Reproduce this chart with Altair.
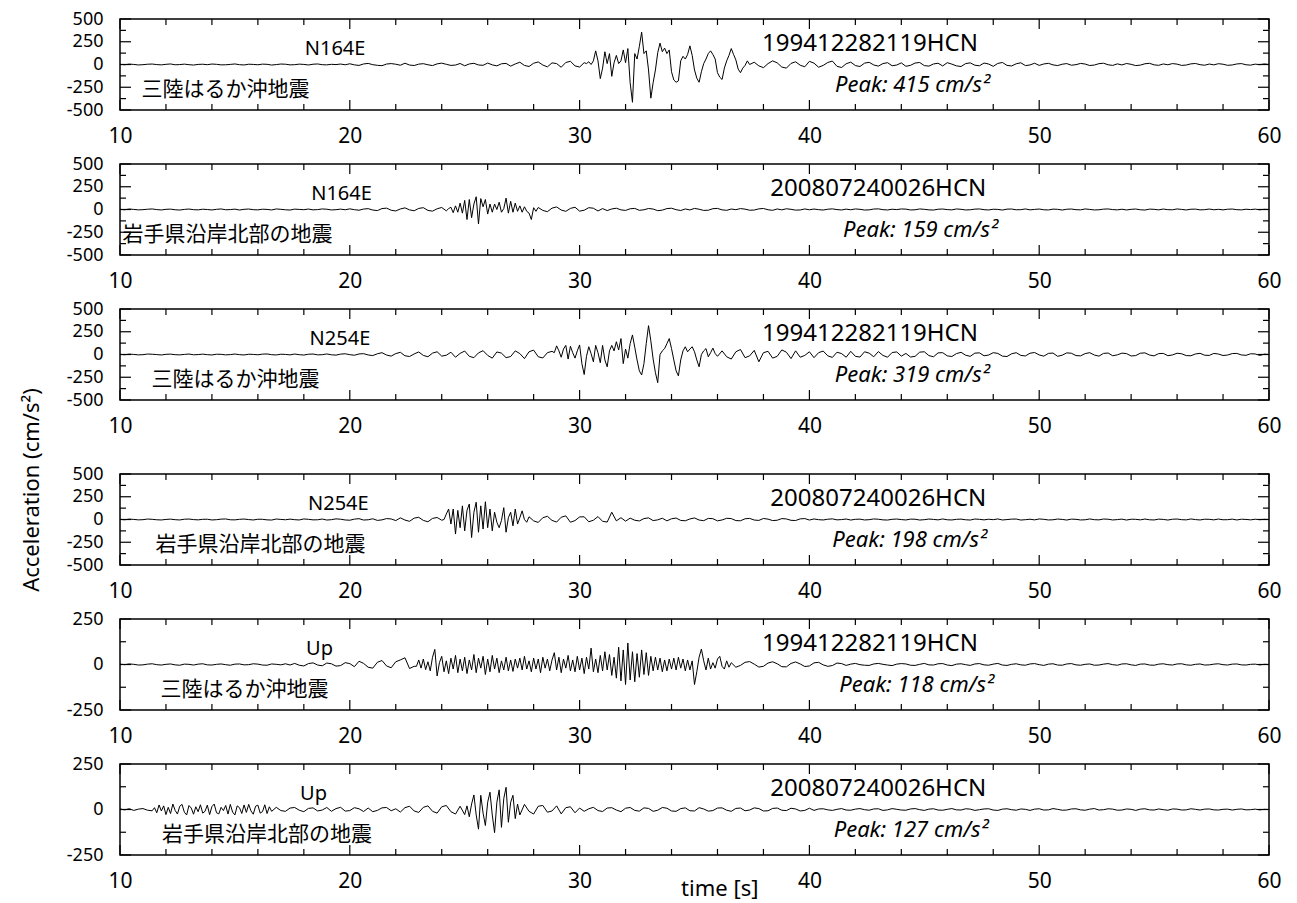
import altair as alt
import pandas as pd

# ---------------- data (acceleration, cm/s^2) ----------------
# every trace is stored in segments: (start time [s], sample step [s], values)

# panel 1 : N164E, 199412282119HCN
P1_PRE = [2, -3, 4, 1, -5, -2, 3, 5, -1, -4, 2, 6, -3, -1, 4, -2, -6, 1, 3, -2,
          5, 2, -4, -3, 1, 6, -2, -5, 3, 1, -3, 4, 2, -6, -1, 5, 3, -4, -2, 4,
          1, -5, 3, 6, -2, -4, 2, -1, 5, -3,
          8, -4, -10, 6, 12, -2, -9, -13, 5, 10, 3, -8, 14, -6, -11, 4, 9, -3, -12, 7,
          15, 2, -10, -6, 11, -14, 6, 13, -5, -9, 16, -4, -15, 8, 12,
          -18, 6, 25, -10, -22, 14, 28, -6, -26, 18, 10, -30, 22, 35, -15, -28, 20]
P1_BURST = [10, 30, 0, 40, 150, 40, -155, -40, 140, 10,
            120, -130, 20, 100, 10, 40, 160, 20, 175, -200,
            -415, 120, 60, 200, 355, 120, 150, -60, -370, -200,
            -60, 130, 235, 140, 180, 120, 160, -80, -170, -195,
            -180, 40, 90, 60, 110, 205, 100, -60, -150, -195,
            -80, 10, 60, 120, 150, 110, 60, -90, -140, -165,
            -40, 40, 100, 175, 110, 50, -50, -90, -40, -10,
            40, 0]
P1_POST = [25, -15, -35, 10, 40, 18, -28, -40, 12, 30, -8, -25, 35, 15, -30, -10, 22, 38, -20, -33, 8, 26,
           -12, -22, 15, 24, -5, -18, 10, 20, -14, -6, 18, -20, -9, 16, 22, -12, -18, 6, 14, -16,
           20, 4, -15, -22, 10, 18, -8, -14, 16, 5, -20, 12, 22, -10, -16, 8, 19, -12, -5, 14,
           -10, 6, 13, -4, -12, 3, 10, -8, -2, 12, 5, -11, -6, 9, 14, -3, -10, 7, -5, 11,
           2, -12, -7, 8, 13, -4, -9, 6, -3, 10, 4, -10, -6, 7, 11, -2, -8, 5, -4, 9,
           3, -9, -5, 6, 10, -3, -7, 4, -2, 6, 0]

# panel 2 : N164E, 200807240026HCN
P2_PRE = [2, -3, 5, 1, -4, -2, 3, 6, -1, -5, 2, 4, -3, -6, 1, 5, -2, -4, 3, 0,
          -5, 2, 6, -3, -1, 4, -6, 2, 5, -2, -4, 3, 1, -5, 6, 2, -3, -6, 4, 1,
          -2, 5, -4, -1, 6, 3, -5, -2, 4, -3, 7, -2, -8, 5, 9,
          -6, -12, 10, 15, -8, -16, 6, 18, -4, -14, 12, 20, -10, -18, 8, 22, -15]
P2_BURST = [10, 25, -35, 40, -30, 70, -40, 100, -110, 110,
            -90, 60, 140, -159, 120, 30, 110, -50, 60, -30,
            60, 0, 80, -30, 10, 125, -40, 90, -30, 70,
            -20, 40, -30, 30, -20, -40, -110, 20, -20]
P2_POST = [22, -10, -24, 15, 28, -6, -20, 12, 25, -18, -8, 20, 14, -16, 10,
           -12, 6, 14, -4, -10, 8, 12, -9, -3, 11, 5, -13, -7, 10, 14, -2, -11, 6, -5, 12,
           3, -10, -8, 9, 12, -4, -9, 5, -2, 10, 4, -8, -6, 7, 11, -3, -9, 6, -4, 8,
           2, -7, -5, 6, -3,
           5, -2, -6, 3, 7, -1, -5, 4, -3, 6, 2, -6, -4, 5, 7, -2, -5, 3, -1, 6,
           4, -5, -3, 6, 2, -4, -6, 3, 5, -1, -4, 6, 2, -5, -3, 4, 6, -2, -5, 3,
           1, -6, 4, 5, -3, -2, 6, -4, 1, 5, -3, -5, 4, 2, -6, 3, 5, -2, -4, 6,
           1, -5, -3, 4, 6, -1, -4, 3, -5, 2, 5, -3, -6, 4, 2, -4, 5, -2, -3, 6,
           1, -5, 3, 4, -4, -2, 5, -3, 2, -4, 3, 5, -2, -4, 3, -1, 4, -3, 2, 0]

# panel 3 : N254E, 199412282119HCN
P3_PRE = [2, -3, 4, 1, -4, -2, 5, 3, -1, -5, 2, 4, -2, -4, 1, 5, -3, -1, 4, -2,
          -5, 3, 2, -4, -1, 5, -2, -5, 3, 1, -3, 4, 6, -2, -5, 3, 1, -4, 5, -2,
          -6, 3, 5, -4, -2, 6, -3, -7, 4, 8, -2, -8, 6, 9, -5,
          -12, 8, 20, -6, -18, 10, 24, -14, -22, 6, 28, -10, -25, 15, 30, -18, -8,
          25, -30, 12, 38, -20, -35, 18, 42, -10, -40, 28, 15, -35, -22, 40, 10, -45, 30, 48, -25, -38, 20, 35]
P3_BURST = [20, 95, 40, -30, 60, 100, -50, 90, 20, -40,
            40, 105, -100, -220, -20, 85, 10, -80, 100, 20,
            -90, 100, -60, -135, 40, 100, 40, 140, 50, 175,
            -100, 60, -40, 120, 215, 80, -60, -180, -225, -100,
            120, 317, 150, -50, -200, -310, 0, 40, 65, 120,
            175, 65, -60, -180, -235, -60, 40, 85, 30, 60,
            85, 30, -60, -135, 0, 40, 65, -25, 20, 70,
            10, -20]
P3_POST = [40, -25, -50, 30, 55, -35, -15, 45, -80, 20, 35, -40, -20, 50, 25, -45, 40, -30, -10, 30,
           -35, 20, 38, -15, -32, 25, 10, -30, 35, -20, -28, 30, 15, -25, 32, -10, -30, 22, 28, -18,
           12, -28, -20, 26, 30, -12, -25, 18, 20, -15,
           -22, 10, 24, -8, -20, 15, 18, -14, -6, 20, 12, -18, -22, 8, 20, -10, -16, 14, 22, -5,
           -18, 12, 16, -20, -8, 18, 14, -12, -15, 10, 20, -6, -18, 12, 16, -14, -4, 15, 10, -16,
           -12, 14, 18, -6, -15, 10, 12, -13, -5, 14, 8, -12, -14, 6, 13, -8, -10, 12, 5, -11,
           -6, 10, 12, -5, -9, 8, 6, -10, 4, 0]

# panel 4 : N254E, 200807240026HCN
P4_PRE = [2, -3, 4, 1, -4, -2, 5, 2, -3, -5, 1, 4, -2, -5, 3, 5, -1, -4, 2, 3,
          -5, -2, 4, 6, -3, -4, 2, 5, -1, -5, 3, 2, -4, -6, 5, 1, -3, 4, -2, -5,
          6, 2, -4, -3, 5, -6, -2, 7, 3, -5, -8, 4, 9, -6, -3, 8, -10, -4, 10, 6,
          -12, 18, -6, -20, 15, 24, -10, -25, 12, 22, -8]
P4_BURST = [0, 60, 115, -50, 115, -160, 100, -90, 150, -125,
            100, 170, -198, 80, 190, -140, 150, -105, 195, -90,
            115, -125, 80, -30, -90, -10, 130, -140, 20, 80,
            -70, 115, -50, 20, 95, 0, -30]
P4_POST = [30, -15, -32, 20, 35, -10, -28, 25, 40, -30, -12, 28, 30, -25, -8, 32, -20, -28, 80, -15, 20, -18,
           15, -8, -16, 10, 18, -12, -4, 14, -15, 8, 16, -10, -14, 6, 17, -6, -13, 12, 9, -15,
           -5, 13, 10, -12, -14, 8, 12, -6, -10, 11, 4, -12, -8, 10, 6, -9, -11, 7, 10, -6,
           6, -2, -5, 3, 7, -4, -1, 5, -6, 2, 4, -5, -2, 6, 3, -4, -6, 2, 5, -1,
           -5, 4, 3, -6, -2, 5, 1, -4, 6, -3, -5, 2, 4, -3, -6, 5, 2, -4, 3, -2,
           6, -5, -1, 4, 5, -6, -2, 3, -4, 6, 2, -5, -3, 5, 1, -6, 4, 2, -5, -3,
           6, -2, -4, 5, 3, -5, -1, 4, -6, 3, 2, -4, 5, -3, -5, 4, 1, -6, 3, 5,
           -2, -4, 6, -1, -5, 3, 2, -4, 5, -3, -2, 4, -5, 3, 1, -4, 3, -2, 2, 0]

# panel 5 : Up, 199412282119HCN
P5_PRE = [2, -1, 3, 1, -3, -2, 2, 4, -1, -3, 1, 3, -2, -4, 2, 1, -3, 2, 4, -2,
          -3, 1, 3, -1, -4, 2, 3, -2, -1, 4, 2, -3, -4, 3, 1, -2, 4, -3,
          6, -4, -8, 5, 9, -3, -7, 8, 4, -9, -6, 10, 5,
          -12, 18, 6, -15, -20, 12, 22, -8, -18, 15, 25, 37, -22, -10]
P5_ACTIVE = [-10,
             25, -20, 30, -28, 15, -35, 40, 83, -63, 10,
             45, -40, 20, -50, 35, -25, 50, -45, 30, -35,
             40, -50, 25, -30, 55, -45, 35, -20, 45, -55,
             30, -40, 50, -25, 35, -45, 20, -30, 40, -35,
             25, -38, 30, -20, 35, -30, 45, -25, 20, -40,
             35, -25, 30, -45, 40, -20, 30, -35, 25, 65,
             -30, 40, -45, 30, -20, 50, -35, 25, -40, 45,
             -30, 35, -50, 40, -25, 90, -40, 30, -45, 50,
             -35, 70, -30, 55, -60, 40, -75, 95, -90, 80,
             -110, 118, -85, 70, -95, 60, -70, 80, -55, 65,
             -60, 45, -35, 40, -30, 35, -40, 25, -35, 30,
             -25, 35, -30, 40, -20, 30, -35, 25, -30, 20,
             -110, -40, 40, 85, 20, -30, 35, -25, 10, -20,
             30, 45, -10, -25, 20, -15, 10]
P5_POST = [-15, -5, 12, 16, 2, -14, -10, 8, 15, 4, -12, -13, 6, 14, 3, -11, -8, 9, 12, -2, -10, -6, 8, 5,
           -5, 2, 6, -1, -4, -5, 3, 6, 1, -3, -6, 2, 5, 3, -4, -5, 1, 6, -2, -3,
           4, 5, -3, -6, 2, 4, -1, -5, 3, 5, -2, -4, 2, 6, -3, -5, 1, 4, -2, -4,
           3, 5, -1, -5, 2, 4, -3, -4, 3, 5, -2, -4, 1, 3, -4, -3, 2, 5, -1, -4,
           3, 4, -2, -5, 2, 3, -3, -4, 2, 4, -1, -3, 3, 4, -2, -4, 1, 3, -3, -2,
           2, 4, -1, -3, 2, 3, -2, -3, 1, 2, -2, 1, 0]

# panel 6 : Up, 200807240026HCN
P6_PRE = [3, -2, 4, -5, 2, 5, -4, -7]
P6_NOISE = [10, -18, 25, -8, 20, -28, 12, -22, 30, -5, -25, 18, 28, -15, -30, 22, 8, -26, 15, -12,
            26, -20, -10, 24, -28, 16, 30, -18, -24, 12, -6, 22, -25, 28, -14, -30, 20, 10, -22, 25,
            -16, 28, -8, -26, 18, 24, -20, -12, 26, -22, 15, -10]
P6_MID = [12, -6, -10, 8, 11, -4, -12, 6, 9, -8, -3, 11, -10, 5, 12, -9, -6, 10, 4, -11,
          8, -12, -5, 9, 11, -7, 4,
          -14, 10, 18, -8, -16, 12, 20, -10, -20, 15, 22, -12, -25, 18, -28]
P6_BURST = [20, -40, 30, 80, -30, -108, 78, -20, -88, 40,
            95, -30, -127, 40, 108, -98, 60, 122, -70, 40,
            78, -50, 30, -30]
P6_POST = [28, -10, -25, 18, 22, -15, -8, 20, -24, 10, 15, -18, 8,
           -10, 4, 12, -6, -11, 8, 10, -3, -12, 7, 11, -5, -9, 9, 6, -10, -4, 11, 7, -8,
           -10, 5, 9, -7, -8, 10, 3, -9, -6, 8, 9, -4, -10, 6, 8, -7, -3, 9, 5, -8,
           -7, 6, 8, -4, -6, 7, 3, -8, -5, 7,
           -5, 3, 4, -2, -5, 1, 5, -3, -4, 2, 5, -1, -4, 3, 4, -5, -2, 5, 1, -3,
           -4, 3, 5, -1, -5, 2, 4, -3, -4, 1, 5, -2, -3, 4, 2, -5, -1, 3, 4, -3,
           -5, 2, 4, -1, -4, 3, 1, -5, 2, 4, -3, -2, 5, 1, -4, -3, 3, 4, -2, -4,
           2, 5, -3, -1, 4, 2, -4, -3, 3, 1, -5, 2, 4, -2, -3, 3, -1, -4, 3, 2,
           -3, -2, 4, 1, -3, 2, 3, -2, -3, 1, 2, -3, 1, 3, -2, -1, 2, -2, 1, 0]

SEGMENTS = [
    [(10.0, 0.2, P1_PRE), (30.3, 0.1, P1_BURST), (37.6, 0.2, P1_POST)],
    [(10.0, 0.2, P2_PRE), (24.3, 0.1, P2_BURST), (28.2, 0.2, P2_POST)],
    [(10.0, 0.2, P3_PRE), (28.9, 0.1, P3_BURST), (36.2, 0.2, P3_POST)],
    [(10.0, 0.2, P4_PRE), (24.1, 0.1, P4_BURST), (27.8, 0.2, P4_POST)],
    [(10.0, 0.2, P5_PRE), (22.9, 0.1, P5_ACTIVE), (36.8, 0.2, P5_POST)],
    [(10.0, 0.2, P6_PRE), (11.5, 0.1, P6_NOISE), (16.8, 0.2, P6_MID), (25.1, 0.1, P6_BURST),
     (27.6, 0.2, P6_POST)],
]

COMPONENT = ["N164E", "N164E", "N254E", "N254E", "Up", "Up"]
EVENT = ["199412282119HCN", "200807240026HCN", "199412282119HCN",
         "200807240026HCN", "199412282119HCN", "200807240026HCN"]
QUAKE = ["三陸はるか沖地震", "岩手県沿岸北部の地震", "三陸はるか沖地震",
         "岩手県沿岸北部の地震", "三陸はるか沖地震", "岩手県沿岸北部の地震"]
PEAK = [415, 159, 319, 198, 118, 127]
YMAX = [500, 500, 500, 500, 250, 250]

# label anchor times (s)
COMP_T = [19.36, 19.64, 19.57, 19.5, 18.68, 18.42]
EVENT_T = [42.64, 43.0, 42.64, 43.0, 42.64, 43.0]
QUAKE_T = [14.59, 14.68, 15.03, 16.11, 15.42, 16.40]
PEAK_T = [44.48, 44.83, 44.47, 44.36, 44.66, 44.42]
# label heights as a fraction of the panel's y half-range
COMP_F, EVENT_F, QUAKE_F, PEAK_F = 0.21, 0.30, -0.70, -0.60

X_LABELS = [10, 20, 30, 40, 50, 60]
X_MINOR = [12, 14, 16, 18, 22, 24, 26, 28, 32, 34, 36, 38, 42, 44, 46, 48, 52, 54, 56, 58]

# ---------------- styling ----------------
W, H = 1149, 91
FONT = "Noto Sans"
JFONT = "Noto Sans CJK JP"
LABEL_EXPR = "datum.value < 0 ? '-' + abs(datum.value) : '' + datum.value"


def trace(segments):
    t, a = [], []
    for start, step, vals in segments:
        for i, v in enumerate(vals):
            t.append(round(start + i * step, 3))
            a.append(v)
    return pd.DataFrame({"t": t, "a": a})


def panel(i, last=False):
    ymax = YMAX[i]
    xs = alt.Scale(domain=[10, 60], nice=False, zero=False)
    ys = alt.Scale(domain=[-ymax, ymax], nice=False, zero=False)
    if ymax == 500:
        y_labels = [500, 250, 0, -250, -500]
        y_major = [500, 250, 0, -250, -500]
        y_minor = [375, 125, -125, -375]
    else:
        y_labels = [250, 0, -250]
        y_major = [250, 0, -250]
        y_minor = [125, -125]
    xaxis = alt.Axis(values=X_LABELS, title=None, ticks=False, tickSize=0, domain=False, grid=False,
                     labelFont=FONT, labelFontSize=21, labelColor="black", labelPadding=15,
                     labelFlush=False, labelExpr=LABEL_EXPR)
    yaxis = alt.Axis(values=y_labels, title=None, ticks=False, tickSize=0, domain=False, grid=False,
                     labelFont=FONT, labelFontSize=18, labelColor="black", labelPadding=17,
                     labelExpr=LABEL_EXPR)

    def X(f):
        return alt.X(f, type="quantitative", scale=xs, axis=xaxis)

    def Y(f):
        return alt.Y(f, type="quantitative", scale=ys, axis=yaxis)

    line = alt.Chart(trace(SEGMENTS[i])).mark_line(color="black", strokeWidth=1, clip=True).encode(
        x=X("t"), y=Y("a"))

    layers = [line]
    for vals, ln in ((X_LABELS, 10), (X_MINOR, 6)):
        base = alt.Chart(pd.DataFrame({"v": vals})).mark_rule(color="black", strokeWidth=1.2)
        layers.append(base.encode(x=X("v"), y=alt.value(0), y2=alt.value(ln)))
        layers.append(base.encode(x=X("v"), y=alt.value(H), y2=alt.value(H - ln)))
    for vals, ln in ((y_major, 11), (y_minor, 6)):
        base = alt.Chart(pd.DataFrame({"v": vals})).mark_rule(color="black", strokeWidth=1.2)
        layers.append(base.encode(y=Y("v"), x=alt.value(0), x2=alt.value(ln)))
        layers.append(base.encode(y=Y("v"), x=alt.value(W), x2=alt.value(W - ln)))

    def label(t, frac, text, size, font=FONT, style="normal"):
        d = pd.DataFrame({"t": [t], "y": [frac * ymax], "s": [text]})
        return alt.Chart(d).mark_text(font=font, fontSize=size, fontStyle=style, color="black",
                                      align="center", baseline="alphabetic").encode(
            x=X("t"), y=Y("y"), text="s:N")

    layers.append(label(COMP_T[i], COMP_F, COMPONENT[i], 20))
    layers.append(label(EVENT_T[i], EVENT_F, EVENT[i], 24))
    layers.append(label(QUAKE_T[i], QUAKE_F, QUAKE[i], 21, font=JFONT))
    layers.append(label(PEAK_T[i], PEAK_F, f"Peak: {PEAK[i]} cm/s²", 22, style="italic"))

    if last:
        d = pd.DataFrame({"t": [36.1], "s": ["time [s]"]})
        layers.append(alt.Chart(d).mark_text(font=FONT, fontSize=22, color="black", align="center",
                                             baseline="top").encode(
            x=X("t"), y=alt.value(H + 24), text="s:N"))

    return alt.layer(*layers).properties(width=W, height=H)


S1 = 7
S2 = 27
top = alt.vconcat(panel(0), panel(1), panel(2), spacing=S1)
bottom = alt.vconcat(panel(3), panel(4), panel(5, last=True), spacing=S1)

chart = alt.vconcat(top, bottom, spacing=S2).properties(
    title=alt.TitleParams("Acceleration (cm/s²)", orient="left", anchor="middle", font=FONT,
                          fontSize=22, fontWeight="normal", color="black", offset=22, dx=-35),
    padding={"left": 20, "top": 9, "right": 5, "bottom": 0},
).configure_view(stroke="black", strokeWidth=1.5)

chart.save("out.html", embed_options={"renderer": "svg", "actions": False})
